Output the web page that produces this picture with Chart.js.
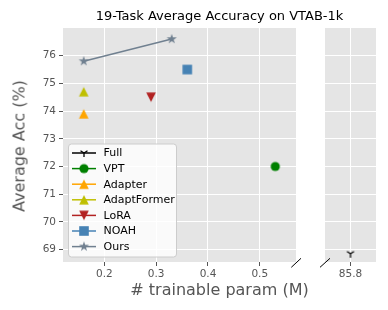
<!DOCTYPE html>
<html>
<head>
<meta charset="utf-8">
<script src="https://cdn.jsdelivr.net/npm/chart.js@4.4.0/dist/chart.umd.min.js"></script>
<style>
  body { margin: 0; background: #fff; }
  #wrap { position: relative; width: 388px; height: 310px; font-family: "DejaVu Sans", sans-serif; }
  canvas { position: absolute; top: 0; }
  .txt { position: absolute; white-space: nowrap; }
  #title { left: 63px; width: 313px; top: 8px; text-align: center; font-size: 13px; color: #000; }
  #xlab { left: 63px; width: 313px; top: 280px; text-align: center; font-size: 16px; color: #555; }
  #ylab { left: 19px; top: 146px; font-size: 16px; color: #555; transform: translate(-50%, -50%) rotate(-90deg); }
</style>
</head>
<body>
<div id="wrap">
  <canvas id="left" width="305" height="310" style="left:0"></canvas>
  <canvas id="right" width="83" height="310" style="left:305px"></canvas>
  <div class="txt" id="title">19-Task Average Accuracy on VTAB-1k</div>
  <div class="txt" id="xlab"># trainable param (M)</div>
  <div class="txt" id="ylab">Average Acc (%)</div>
</div>
<script>
// data
const methods = ['Full', 'VPT', 'Adapter', 'AdaptFormer', 'LoRA', 'NOAH', 'Ours'];
const params = [[85.8], [0.53], [0.16], [0.16], [0.29], [0.36], [0.16, 0.33]];
const accs = [[68.85], [72.0], [73.9], [74.7], [74.5], [75.5], [75.8, 76.6]];
const colors = ['#000000', '#008000', '#ffa500', '#bfbf00', '#b22222', '#4682b4', '#708090'];
const markers = ['tri_down', 'circle', 'tri_up', 'tri_up', 'tri_dn', 'square', 'star'];

const xTicksLeft = [0.2, 0.3, 0.4, 0.5];
const xTicksRight = [85.8];
const yTicks = [69, 70, 71, 72, 73, 74, 75, 76];

Chart.defaults.font.family = 'DejaVu Sans';

// matplotlib-like markers drawn into small canvases
function makeMarker(kind, color) {
  const c = document.createElement('canvas');
  c.width = 16; c.height = 16;
  const g = c.getContext('2d');
  g.translate(8, 8);
  g.fillStyle = color;
  g.strokeStyle = color;
  g.beginPath();
  if (kind == 'circle') {
    g.arc(0, 0, 4.6, 0, Math.PI * 2);
    g.fill();
  } else if (kind == 'tri_up') {
    g.moveTo(0, -4.8); g.lineTo(-4.8, 4.8); g.lineTo(4.8, 4.8); g.closePath();
    g.fill();
  } else if (kind == 'tri_dn') {
    g.moveTo(0, 4.8); g.lineTo(-4.8, -4.8); g.lineTo(4.8, -4.8); g.closePath();
    g.fill();
  } else if (kind == 'square') {
    g.rect(-4.8, -4.8, 9.6, 9.6);
    g.fill();
  } else if (kind == 'star') {
    const R = 5.3, r = R * 0.382;
    for (let i = 0; i < 10; i++) {
      const a = -Math.PI / 2 + i * Math.PI / 5;
      const rr = i % 2 ? r : R;
      g.lineTo(Math.cos(a) * rr, Math.sin(a) * rr);
    }
    g.closePath();
    g.fill();
  } else if (kind == 'tri_down') {
    g.lineWidth = 1.3;
    g.moveTo(0, 0); g.lineTo(0, 4);
    g.moveTo(0, 0); g.lineTo(-3.5, -2.2);
    g.moveTo(0, 0); g.lineTo(3.5, -2.2);
    g.stroke();
  }
  return c;
}
const markerImgs = methods.map((m, i) => makeMarker(markers[i], colors[i]));

function buildDatasets(side) {
  const sets = [];
  methods.forEach((m, i) => {
    const pts = [];
    params[i].forEach((p, j) => {
      if ((side == 'left') == (p < 1)) pts.push({x: p, y: accs[i][j]});
    });
    sets.push({
      label: m,
      data: pts,
      showLine: pts.length > 1,
      borderColor: colors[i],
      backgroundColor: colors[i],
      borderWidth: 1.5,
      pointStyle: markerImgs[i],
      pointRadius: 5
    });
  });
  return sets;
}

const panelBg = {
  id: 'panelBg',
  beforeDraw(chart) {
    const a = chart.chartArea, ctx = chart.ctx;
    ctx.save();
    ctx.fillStyle = '#e5e5e5';
    ctx.fillRect(a.left, a.top, a.right - a.left, a.bottom - a.top);
    ctx.restore();
  }
};

function breakMark(x1, y1, x2, y2) {
  return {
    id: 'breakMark',
    afterDraw(chart) {
      const ctx = chart.ctx;
      ctx.save();
      ctx.strokeStyle = '#000';
      ctx.lineWidth = 1;
      ctx.beginPath();
      ctx.moveTo(x1, y1); ctx.lineTo(x2, y2);
      ctx.stroke();
      ctx.restore();
    }
  };
}

const legendBox = {
  id: 'legendBox',
  afterDraw(chart) {
    const ctx = chart.ctx;
    const bx = 68.5, by = 144, bw = 108, bh = 113;
    ctx.save();
    ctx.fillStyle = 'rgba(255,255,255,0.8)';
    ctx.strokeStyle = '#cccccc';
    ctx.lineWidth = 1;
    ctx.beginPath();
    ctx.roundRect(bx, by, bw, bh, 3);
    ctx.fill();
    ctx.stroke();
    ctx.font = '11px "DejaVu Sans"';
    ctx.textBaseline = 'middle';
    methods.forEach((m, i) => {
      const y = 153 + i * 15.6;
      ctx.strokeStyle = colors[i];
      ctx.lineWidth = 1.5;
      ctx.beginPath();
      ctx.moveTo(72, y); ctx.lineTo(96, y);
      ctx.stroke();
      ctx.drawImage(markerImgs[i], 84 - 8, y - 8);
      ctx.fillStyle = '#000';
      ctx.fillText(m, 103.5, y + 0.5);
    });
    ctx.restore();
  }
};

const tickFont = {size: 10.5};

function gridOpts() {
  return {color: '#ffffff', lineWidth: 1, tickColor: '#555555', tickLength: 4, tickWidth: 1};
}

new Chart(document.getElementById('left'), {
  type: 'scatter',
  data: {datasets: buildDatasets('left')},
  options: {
    responsive: false,
    animation: false,
    layout: {padding: {left: 0, top: 28, right: 9, bottom: 0}},
    plugins: {legend: {display: false}, tooltip: {enabled: false}},
    scales: {
      x: {
        type: 'linear', min: 0.12, max: 0.57,
        afterBuildTicks: s => { s.ticks = xTicksLeft.map(v => ({value: v})); },
        afterFit: s => { s.height = 48; },
        grid: gridOpts(),
        border: {display: false},
        ticks: {color: '#555555', font: tickFont, padding: 2, maxRotation: 0, callback: v => v.toFixed(1)}
      },
      y: {
        min: 68.55, max: 77.0,
        afterBuildTicks: s => { s.ticks = yTicks.map(v => ({value: v})); },
        afterFit: s => { s.width = 63; },
        grid: gridOpts(),
        border: {display: false},
        ticks: {color: '#555555', font: tickFont, padding: 3}
      }
    }
  },
  plugins: [panelBg, breakMark(291.3, 267.3, 301, 258.3), legendBox]
});

new Chart(document.getElementById('right'), {
  type: 'scatter',
  data: {datasets: buildDatasets('right')},
  options: {
    responsive: false,
    animation: false,
    layout: {padding: {left: 20, top: 28, right: 12, bottom: 0}},
    plugins: {legend: {display: false}, tooltip: {enabled: false}},
    scales: {
      x: {
        type: 'linear', min: 85.3, max: 86.3,
        afterBuildTicks: s => { s.ticks = xTicksRight.map(v => ({value: v})); },
        afterFit: s => { s.height = 48; },
        grid: gridOpts(),
        border: {display: false},
        ticks: {color: '#555555', font: tickFont, padding: 2, maxRotation: 0, callback: v => v.toFixed(1)}
      },
      y: {
        min: 68.55, max: 77.0,
        afterBuildTicks: s => { s.ticks = yTicks.map(v => ({value: v})); },
        afterFit: s => { s.width = 0; },
        grid: {color: '#ffffff', lineWidth: 1, drawTicks: false},
        border: {display: false},
        ticks: {display: false}
      }
    }
  },
  plugins: [panelBg, breakMark(15, 267.3, 25, 258.3)]
});
</script>
</body>
</html>
